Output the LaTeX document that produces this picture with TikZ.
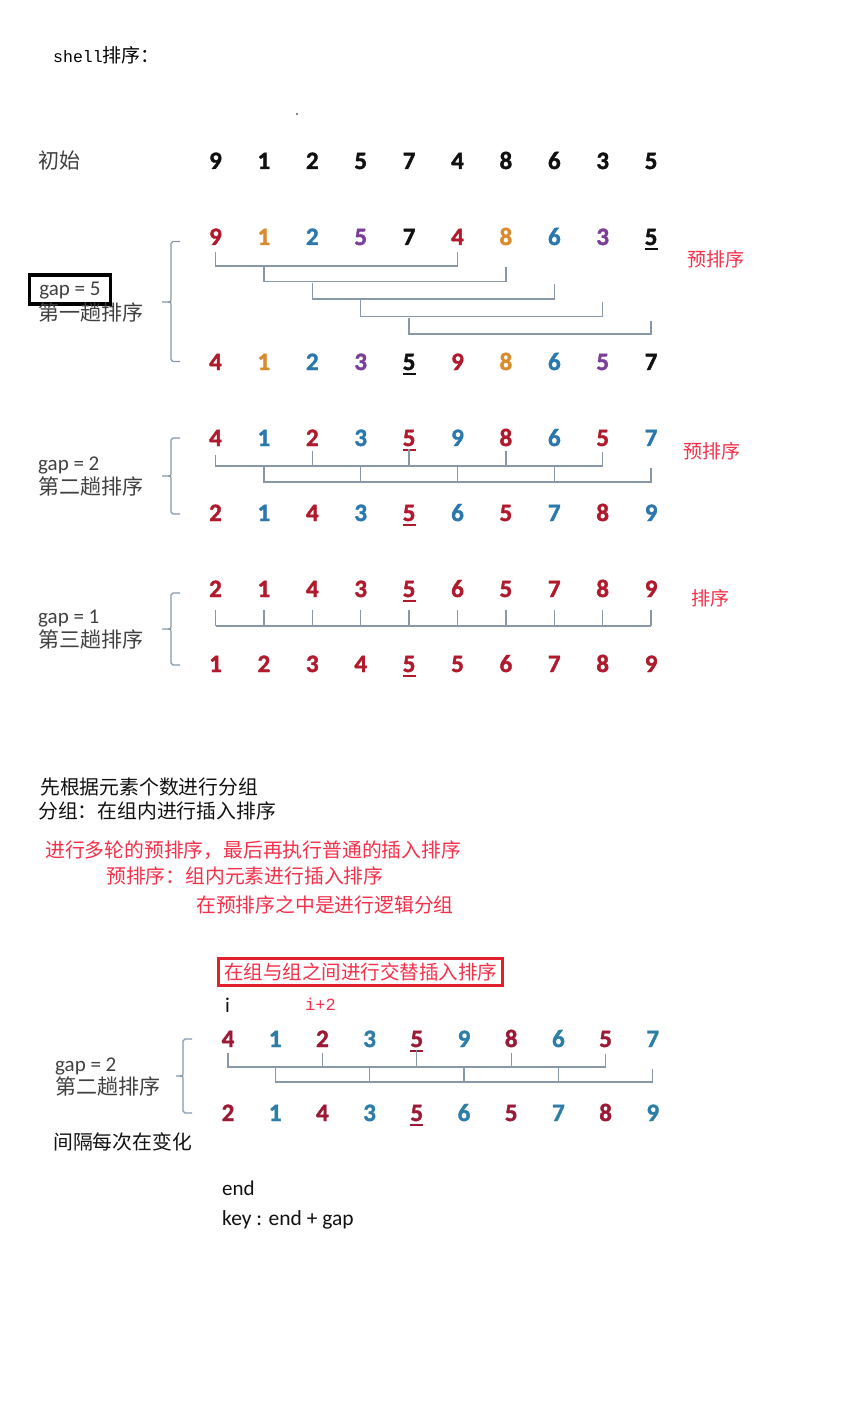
\documentclass[tikz,border=0pt]{standalone}
\usepackage{fontspec}
\setmainfont{Carlito}
\newfontfamily\cjk{Noto Sans CJK SC}
\newfontfamily\monof{Liberation Mono}
\newfontfamily\numf[FakeBold=1.5]{Carlito}
\definecolor{nred}{HTML}{B01A2C}
\definecolor{norg}{HTML}{D98B2E}
\definecolor{nblu}{HTML}{2A78AE}
\definecolor{npur}{HTML}{7B3F98}
\definecolor{nblk}{HTML}{111111}
\definecolor{dred}{HTML}{9B1B36}
\definecolor{dblu}{HTML}{2C7EA6}
\definecolor{lgray}{HTML}{8898A6}
\definecolor{lbl}{HTML}{404040}
\definecolor{pred}{HTML}{F5304A}
\definecolor{bred}{HTML}{E21F2D}
\newcommand\numrow[5]{%
  \foreach \c/\d [count=\i from 0] in {#5} {
    \node[num,text=\c] (#1\i) at ({#3+#4*\i},#2) {\d};
  }}
\newcommand\ulin[2]{\draw[line width=2pt,#2] ([xshift=-6.5pt,yshift=-3.5pt]#1.south) -- ([xshift=6.5pt,yshift=-3.5pt]#1.south);}
\newcommand\gbrace[5]{% x, top, bottom, mid, left
  \draw[brc] ({#1+9},#2) -- ({#1+2},#2) -- (#1,{#2+2}) -- (#1,{#4-3}) .. controls (#1,#4) .. ({#1-3},#4) -- (#5,#4);
  \draw[brc] ({#1-3},#4) .. controls (#1,#4) .. (#1,{#4+3}) -- (#1,{#3-2}) -- ({#1+2},#3) -- ({#1+9},#3);}
\tikzset{
  num/.style={font=\numf\bfseries\fontsize{25}{25}\selectfont, inner sep=0pt, text height=16pt, text depth=0pt, anchor=center},
  bl/.style={draw=lgray, line width=1.3pt},
  brc/.style={draw=lgray, line width=1.2pt},
  lab/.style={anchor=west, inner sep=0pt, text height=8pt, text depth=2pt, yshift=-4.5pt},
  glab/.style={lab, text=lbl, font=\fontsize{21}{21}\selectfont},
  clab/.style={lab, text=lbl, font=\cjk\fontsize{21}{21}\selectfont},
  note/.style={lab, text=nblk, font=\cjk\fontsize{19.8}{19.8}\selectfont},
  rnote/.style={lab, text=pred, font=\cjk\fontsize{19.8}{19.8}\selectfont},
}
\begin{document}
\begin{tikzpicture}[x=1pt,y=-1pt]
\fill[white] (0,0) rectangle (862,1412);
\useasboundingbox (0,0) rectangle (862,1412);

% title
\node[lab, font=\fontsize{19}{19}\selectfont] (title) at (53,55) {{\monof\fontsize{16.5}{16.5}\selectfont shell}{\cjk 排序：}};
\fill[nblk] (297,114) circle (0.9);

% initial row
\node[clab] (init) at (38,161) {初始};
\numrow{z}{161}{215.5}{48.4}{nblk/9,nblk/1,nblk/2,nblk/5,nblk/7,nblk/4,nblk/8,nblk/6,nblk/3,nblk/5}

% gap = 5
\numrow{a}{237}{215.5}{48.4}{nred/9,norg/1,nblu/2,npur/5,nblk/7,nred/4,norg/8,nblu/6,npur/3,nblk/5}
\numrow{b}{362}{215.5}{48.4}{nred/4,norg/1,nblu/2,npur/3,nblk/5,nred/9,norg/8,nblu/6,npur/5,nblk/7}
\ulin{a9}{nblk}
\ulin{b4}{nblk}
\draw[bl] (a0 |- 0,252) -- (a0 |- 0,266) -- (a5 |- 0,266) -- (a5 |- 0,252);
\draw[bl] (a1 |- 0,266) -- (a1 |- 0,281.5) -- (a6 |- 0,281.5) -- (a6 |- 0,267);
\draw[bl] (a2 |- 0,283) -- (a2 |- 0,299) -- (a7 |- 0,299) -- (a7 |- 0,284);
\draw[bl] (a3 |- 0,300) -- (a3 |- 0,316.5) -- (a8 |- 0,316.5) -- (a8 |- 0,302);
\draw[bl] (a4 |- 0,318) -- (a4 |- 0,334) -- (a9 |- 0,334) -- (a9 |- 0,321);
\gbrace{171}{241.5}{361.5}{302}{162}
\node[draw=black, line width=3.3pt, inner sep=0pt, minimum width=80.5pt, minimum height=29pt, font=\fontsize{21}{21}\selectfont, text=lbl, text height=15pt, text depth=4pt] (gap5) at (70,289.5) {gap = 5};
\node[clab] (pass1) at (38,313) {第一趟排序};
\node[rnote, font=\cjk\fontsize{19}{19}\selectfont] (pre1) at (687,259) {预排序};

% gap = 2
\numrow{c}{438}{215.5}{48.4}{nred/4,nblu/1,nred/2,nblu/3,nred/5,nblu/9,nred/8,nblu/6,nred/5,nblu/7}
\numrow{d}{513}{215.5}{48.4}{nred/2,nblu/1,nred/4,nblu/3,nred/5,nblu/6,nred/5,nblu/7,nred/8,nblu/9}
\ulin{c4}{nred}
\ulin{d4}{nred}
\draw[bl] (c0 |- 0,455) -- (c0 |- 0,466) -- (c8 |- 0,466) -- (c8 |- 0,452);
\foreach \k in {2,6} {\draw[bl] (c\k |- 0,451) -- (c\k |- 0,466);}
\draw[bl] (c4 |- 0,449) -- (c4 |- 0,466);
\draw[bl] (c1 |- 0,466) -- (c1 |- 0,482) -- (c9 |- 0,482) -- (c9 |- 0,468);
\foreach \k in {3,5,7} {\draw[bl] (c\k |- 0,466) -- (c\k |- 0,482);}
\gbrace{171}{438}{514}{476}{162}
\node[glab] (gap2) at (38,463) {gap = 2};
\node[clab] (pass2) at (38,487) {第二趟排序};
\node[rnote, font=\cjk\fontsize{19}{19}\selectfont] (pre2) at (683,451) {预排序};

% gap = 1
\numrow{e}{589}{215.5}{48.4}{nred/2,nred/1,nred/4,nred/3,nred/5,nred/6,nred/5,nred/7,nred/8,nred/9}
\numrow{f}{664}{215.5}{48.4}{nred/1,nred/2,nred/3,nred/4,nred/5,nred/5,nred/6,nred/7,nred/8,nred/9}
\ulin{e4}{nred}
\ulin{f4}{nred}
\draw[bl] (e0 |- 0,626) -- (e9 |- 0,626);
\foreach \k in {0,...,9} {\draw[bl] (e\k |- 0,610) -- (e\k |- 0,626);}
\gbrace{171}{593}{665}{629}{162}
\node[glab] (gap1) at (38,616) {gap = 1};
\node[clab] (pass3) at (38,640) {第三趟排序};
\node[rnote, font=\cjk\fontsize{19}{19}\selectfont] (sort) at (691,598) {排序};

% notes
\node[note] (n1) at (40,787) {先根据元素个数进行分组};
\node[note] (n2) at (38,811) {分组：在组内进行插入排序};
\node[rnote] (n3) at (45,850) {进行多轮的预排序，最后再执行普通的插入排序};
\node[rnote] (n4) at (106,876) {预排序：组内元素进行插入排序};
\node[rnote] (n5) at (196,905) {在预排序之中是进行逻辑分组};
\node[draw=bred, line width=3pt, inner sep=0pt, minimum width=284pt, minimum height=27pt, text=pred, font=\cjk\fontsize{19.5}{19.5}\selectfont] (alt) at (360.5,972) {在组与组之间进行交替插入排序};
\node[glab, text=nblk] (iidx) at (225,1005) {i};
\node[lab, text=pred, font=\monof\fontsize{17}{17}\selectfont] (i2) at (305,1003) {i+2};

% bottom gap = 2
\numrow{g}{1039}{228}{47.2}{dred/4,dblu/1,dred/2,dblu/3,dred/5,dblu/9,dred/8,dblu/6,dred/5,dblu/7}
\numrow{h}{1113}{228}{47.2}{dred/2,dblu/1,dred/4,dblu/3,dred/5,dblu/6,dred/5,dblu/7,dred/8,dblu/9}
\ulin{g4}{dred}
\ulin{h4}{dred}
\draw[bl] (g0 |- 0,1053) -- (g0 |- 0,1067) -- (g8 |- 0,1067) -- (g8 |- 0,1054);
\foreach \k in {2,6} {\draw[bl] (g\k |- 0,1053) -- (g\k |- 0,1067);}
\draw[bl] (g4 |- 0,1050) -- (g4 |- 0,1067);
\draw[bl] (g1 |- 0,1067) -- (g1 |- 0,1082) -- (g9 |- 0,1082) -- (g9 |- 0,1069);
\foreach \k in {3,5,7} {\draw[bl] (g\k |- 0,1067) -- (g\k |- 0,1082);}
\gbrace{183}{1039}{1113}{1076}{176}
\node[glab] (gap2b) at (55,1064) {gap = 2};
\node[clab] (pass2b) at (55,1087) {第二趟排序};
\node[note] (n6) at (53,1142) {间隔每次在变化};
\node[glab, text=nblk] (endl) at (222,1188) {end};
\node[glab, text=nblk, font=\fontsize{21.5}{21.5}\selectfont] (keyl) at (222,1218) {key : end + gap};
\end{tikzpicture}
\end{document}
